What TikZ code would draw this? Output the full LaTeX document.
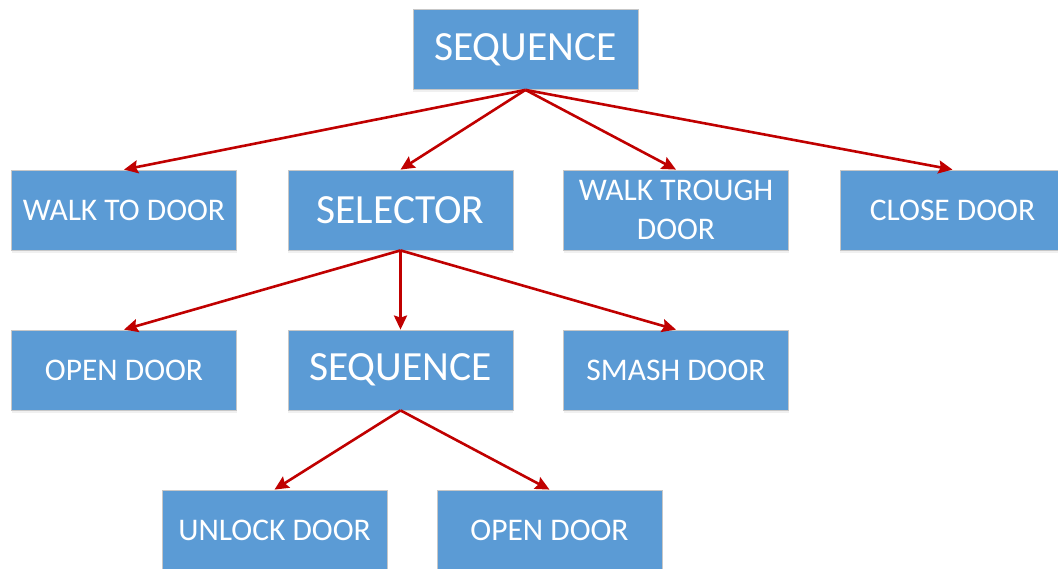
\documentclass[tikz,border=0pt]{standalone}
\usepackage{fontspec}
\setmainfont{Carlito}
\usetikzlibrary{arrows.meta,shadows}
\definecolor{boxblue}{HTML}{5B9BD5}
\definecolor{linkred}{HTML}{C00000}
\begin{document}
\begin{tikzpicture}[x=1pt,y=-1pt,
  task/.style={rectangle, fill=boxblue, draw=black!22, line width=0.8pt,
    minimum width=225pt, minimum height=80pt, inner sep=0pt,
    text=white, align=center, font=\fontsize{31.5}{39}\selectfont,
    drop shadow={shadow xshift=0pt, shadow yshift=-3pt, opacity=0.12}},
  ctrl/.style={task, font=\fontsize{41.5}{48}\selectfont},
  link/.style={draw=linkred, line width=2.6pt,
    -{Stealth[length=14pt,width=13pt,inset=2pt]}}]
\useasboundingbox (0,0) rectangle (1058,569);
% root
\node[ctrl] (root) at (525.5,49.5) {SEQUENCE};
% first level
\node[task] (walk)   at (124,210) {WALK TO DOOR};
\node[ctrl] (sel)    at (400.5,210) {SELECTOR};
\node[task] (trough) at (676,210) {WALK TROUGH\\DOOR};
\node[task] (close)  at (952.5,210) {CLOSE DOOR};
% second level
\node[task] (open1)  at (124,370) {OPEN DOOR};
\node[ctrl] (seq)    at (400.5,370) {SEQUENCE};
\node[task] (smash)  at (676,370) {SMASH DOOR};
% third level
\node[task] (unlock) at (274.5,530) {UNLOCK DOOR};
\node[task] (open2)  at (549.5,530) {OPEN DOOR};
% connectors
\foreach \t in {walk,sel,trough,close}
  \draw[link] (root.south) -- (\t.north);
\foreach \t in {open1,seq,smash}
  \draw[link] (sel.south) -- (\t.north);
\foreach \t in {unlock,open2}
  \draw[link] (seq.south) -- (\t.north);
\end{tikzpicture}
\end{document}
